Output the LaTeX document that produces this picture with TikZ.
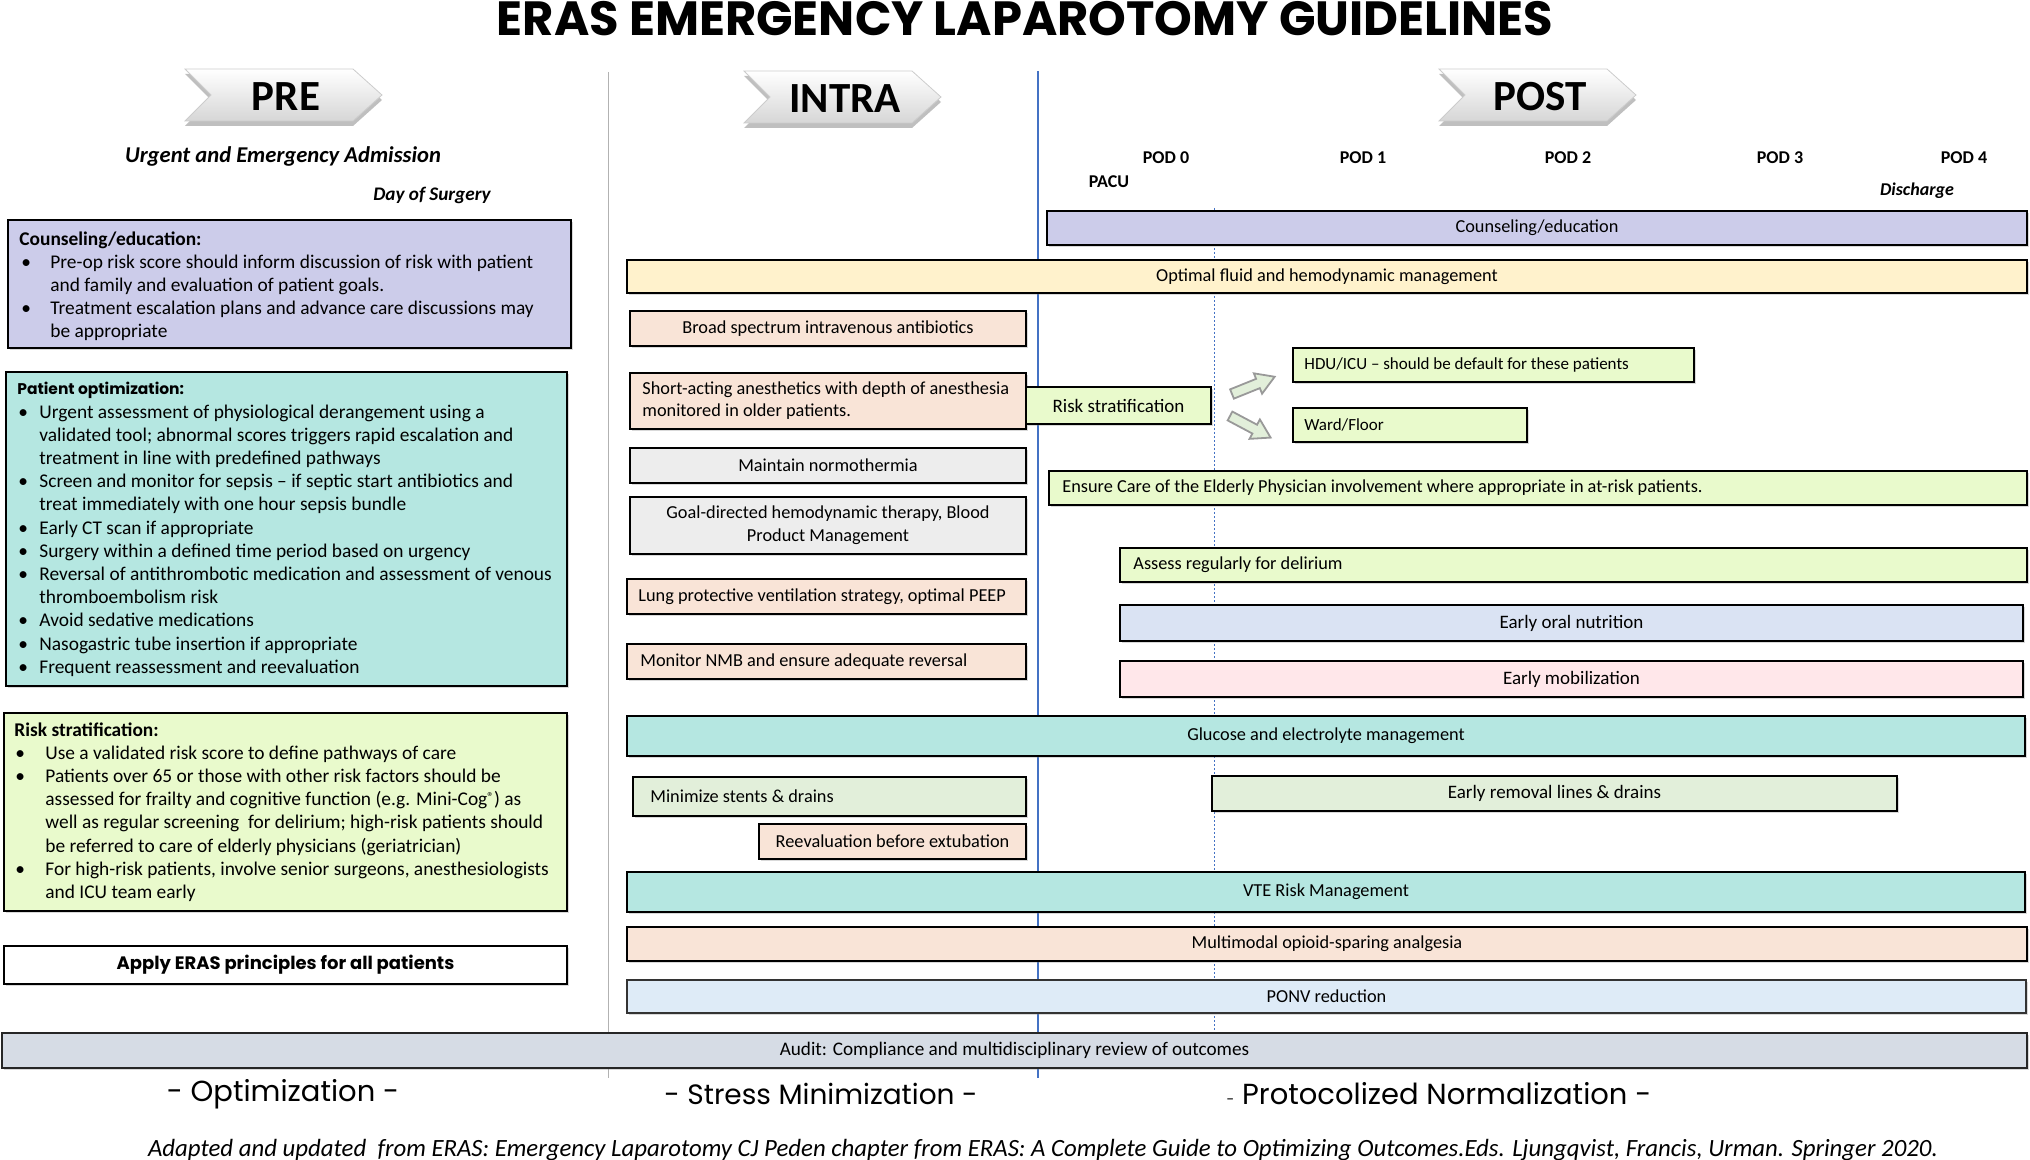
\documentclass[tikz,border=0pt]{standalone}
\usepackage{fontspec}
\setmainfont{Carlito}
\newfontfamily\gothic{Poppins}
\usetikzlibrary{shadows}
\definecolor{lav}{RGB}{204,204,234}
\definecolor{teal}{RGB}{181,231,225}
\definecolor{lgreen}{RGB}{233,250,204}
\definecolor{peach}{RGB}{249,228,215}
\definecolor{yel}{RGB}{255,242,204}
\definecolor{lgrey}{RGB}{237,237,237}
\definecolor{lblue}{RGB}{218,227,243}
\definecolor{pink}{RGB}{255,231,234}
\definecolor{ggreen}{RGB}{226,239,218}
\definecolor{pblue}{RGB}{222,235,247}
\definecolor{auditc}{RGB}{214,220,229}
\definecolor{vblue}{RGB}{68,114,196}
\tikzset{
  bar/.style={draw=black, line width=1.4pt, inner sep=0pt,
    font=\fontsize{9.15}{11}\selectfont,
    drop shadow={shadow xshift=1.2pt, shadow yshift=-1.2pt, opacity=0.3}},
  bigt/.style={font=\fontsize{9.5}{11}\selectfont},
  tx/.style={inner sep=0pt, font=\fontsize{9.15}{11}\selectfont},
  smalltx/.style={inner sep=0pt, font=\fontsize{8.5}{10}\selectfont},
  leftbody/.style={anchor=north west, inner sep=0pt, align=left, font=\fontsize{9.7}{11.6}\selectfont},
  podlab/.style={font=\bfseries\fontsize{9}{10}\selectfont, inner sep=0pt},
  chevtext/.style={font=\bfseries\fontsize{21.5}{24}\selectfont, inner sep=0pt},
  chevbody/.style={top color=white, bottom color=black!16, draw=black!20, line width=0.4pt,
    drop shadow={shadow xshift=0pt, shadow yshift=-2.5pt, opacity=0.5}},
  blockarrow/.style={fill=ggreen, draw=black!40, line width=0.9pt},
  phase/.style={font=\gothic\fontsize{14.5}{17}\selectfont, inner sep=0pt},
}
% name, x1, y1, x2, y2, style, text
\newcommand\mybar[7]{\node[bar,#6,minimum width={((#4)-(#2))*0.5pt},minimum height={((#5)-(#3))*0.5pt}] (#1) at ({((#2)+(#4))/2},{((#3)+(#5))/2}) {#7};}
% name, x1, y1, x2, y2, style, textx, textstyle, text
\newcommand\mybarl[9]{\node[bar,#6,minimum width={((#4)-(#2))*0.5pt},minimum height={((#5)-(#3))*0.5pt}] (#1) at ({((#2)+(#4))/2},{((#3)+(#5))/2}) {};
\node[anchor=west,#8] (#1-t) at (#7,{((#3)+(#5))/2}) {#9};}
% name, x0, y0, text
\newcommand\mychev[4]{\path[chevbody] (#2,#3) -- ({#2+168},#3) -- ({#2+197},{#3+26}) -- ({#2+168},{#3+52}) -- (#2,{#3+52}) -- ({#2+26},{#3+26}) -- cycle;
\node[chevtext] (#1) at ({#2+101},{#3+28}) {#4};}
% bullet line: bullet offset, text offset
\newcommand\bul[2]{\makebox[#2][l]{\hspace*{#1}•}}
\begin{document}
\begin{tikzpicture}[x=0.5pt,y=-0.5pt]
\useasboundingbox (0,0) rectangle (2030,1160);
% phase separators
\draw[black!30, line width=0.5pt] (608,72) coordinate (g1) -- (608,1078) coordinate (g2);
\draw[vblue, line width=0.6pt] (1038,71) coordinate (b1) -- (1038,1078) coordinate (b2);
\draw[vblue, line width=0.5pt, dash pattern=on 1pt off 1pt] (1214,208) coordinate (d1) -- (1214,1030) coordinate (d2);

% title
\node[font=\gothic\bfseries\fontsize{24}{27}\selectfont, inner sep=0pt] (title) at (1025,19) {ERAS EMERGENCY LAPAROTOMY GUIDELINES};

% chevrons
\mychev{pre}{185}{69}{PRE}
\mychev{intra}{744}{71}{INTRA}
\mychev{post}{1439}{69}{POST}

% headings
\node[font=\bfseries\itshape\fontsize{11.3}{13}\selectfont, inner sep=0pt] (urgent) at (283,156) {Urgent and Emergency Admission};
\node[font=\bfseries\itshape\fontsize{9.6}{11}\selectfont, inner sep=0pt] (dos) at (432,195) {Day of Surgery};
\node[podlab] (pod0) at (1166,158) {POD 0};
\node[podlab] (pod1) at (1363,158) {POD 1};
\node[podlab] (pod2) at (1568,158) {POD 2};
\node[podlab] (pod3) at (1780,158) {POD 3};
\node[podlab] (pod4) at (1964,158) {POD 4};
\node[podlab] (pacu) at (1109,182) {PACU};
\node[podlab, font=\bfseries\itshape\fontsize{9}{10}\selectfont] (disch) at (1917,191) {Discharge};

% left boxes
\mybar{counbox}{8}{220}{571}{348}{fill=lav}{}
\node[leftbody] (counbox-t) at (19,231) {\textbf{Counseling/education:}\\
\bul{1pt}{15.5pt}Pre-op risk score should inform discussion of risk with patient\\
\hspace*{15.5pt}and family and evaluation of patient goals.\\
\bul{1pt}{15.5pt}Treatment escalation plans and advance care discussions may\\
\hspace*{15.5pt}be appropriate};

\mybar{patbox}{6}{372}{567}{686}{fill=teal}{}
\node[leftbody] (patbox-t) at (17,382) {{\gothic\bfseries\fontsize{7.75}{9}\selectfont Patient optimization:}\\
\bul{0.5pt}{11pt}Urgent assessment of physiological derangement using a\\
\hspace*{11pt}validated tool; abnormal scores triggers rapid escalation and\\
\hspace*{11pt}treatment in line with predefined pathways\\
\bul{0.5pt}{11pt}Screen and monitor for sepsis – if septic start antibiotics and\\
\hspace*{11pt}treat immediately with one hour sepsis bundle\\
\bul{0.5pt}{11pt}Early CT scan if appropriate\\
\bul{0.5pt}{11pt}Surgery within a defined time period based on urgency\\
\bul{0.5pt}{11pt}Reversal of antithrombotic medication and assessment of venous\\
\hspace*{11pt}thromboembolism risk\\
\bul{0.5pt}{11pt}Avoid sedative medications\\
\bul{0.5pt}{11pt}Nasogastric tube insertion if appropriate\\
\bul{0.5pt}{11pt}Frequent reassessment and reevaluation};

\mybar{riskbox}{4}{713}{567}{911}{fill=lgreen}{}
\node[leftbody] (riskbox-t) at (14,722) {\textbf{Risk stratification:}\\
\bul{0.5pt}{15.5pt}Use a validated risk score to define pathways of care\\
\bul{0.5pt}{15.5pt}Patients over 65 or those with other risk factors should be\\
\hspace*{15.5pt}assessed for frailty and cognitive function (e.g. Mini-Cog{\fontsize{6.5}{7}\selectfont\raisebox{2.2pt}{®}}) as\\
\hspace*{15.5pt}well as regular screening\ \ for delirium; high-risk patients should\\
\hspace*{15.5pt}be referred to care of elderly physicians (geriatrician)\\
\bul{0.5pt}{15.5pt}For high-risk patients, involve senior surgeons, anesthesiologists\\
\hspace*{15.5pt}and ICU team early};

\mybar{apply}{4}{946}{567}{984}{fill=white, font=\gothic\bfseries\fontsize{9}{10}\selectfont}{Apply ERAS principles for all patients}

% intra / post bars
\mybar{cou}{1047}{211}{2027}{245}{fill=lav}{Counseling/education}
\mybar{fluid}{627}{260}{2027}{293}{fill=yel}{Optimal fluid and hemodynamic management}
\mybar{abx}{630}{311}{1026}{346}{fill=peach}{Broad spectrum intravenous antibiotics}
\mybarl{short}{630}{373}{1026}{429}{fill=peach}{642}{tx, align=left, font=\fontsize{9.15}{11}\selectfont}{Short-acting anesthetics with depth of anesthesia\\monitored in older patients.}
\mybar{rs}{1026}{387}{1211}{424}{fill=lgreen, bigt}{Risk stratification}
\mybarl{hdu}{1293}{348}{1694}{382}{fill=lgreen}{1304}{smalltx}{HDU/ICU – should be default for these patients}
\mybarl{ward}{1293}{408}{1527}{442}{fill=lgreen}{1304}{smalltx}{Ward/Floor}
\mybar{norm}{630}{448}{1026}{483}{fill=lgrey}{Maintain normothermia}
\mybar{gdt}{630}{497}{1026}{554}{fill=lgrey, align=center, font=\fontsize{9.15}{11.5}\selectfont}{Goal-directed hemodynamic therapy, Blood\\Product Management}
\mybarl{elder}{1049}{471}{2027}{505}{fill=lgreen}{1062}{tx}{Ensure Care of the Elderly Physician involvement where appropriate in at-risk patients.}
\mybarl{delir}{1120}{548}{2027}{582}{fill=lgreen}{1133}{tx}{Assess regularly for delirium}
\mybarl{lung}{627}{579}{1026}{614}{fill=peach}{638}{tx}{Lung protective ventilation strategy, optimal PEEP}
\mybarl{nmb}{627}{644}{1026}{679}{fill=peach}{640}{tx}{Monitor NMB and ensure adequate reversal}
\mybar{oral}{1120}{605}{2023}{641}{fill=lblue, bigt}{Early oral nutrition}
\mybar{mob}{1120}{661}{2023}{697}{fill=pink, bigt}{Early mobilization}
\mybar{gluc}{627}{716}{2025}{756}{fill=teal}{Glucose and electrolyte management}
\mybarl{stents}{633}{777}{1026}{816}{fill=ggreen, line width=1.1pt}{650}{tx}{Minimize stents \& drains}
\mybar{reeval}{759}{824}{1026}{859}{fill=peach, line width=1.1pt}{Reevaluation before extubation}
\mybar{remove}{1212}{776}{1897}{811}{fill=ggreen, bigt}{Early removal lines \& drains}
\mybar{vte}{627}{872}{2025}{912}{fill=teal}{VTE Risk Management}
\mybar{opioid}{627}{927}{2027}{961}{fill=peach}{Multimodal opioid-sparing analgesia}
\mybar{ponv}{627}{980}{2026}{1013}{fill=pblue, draw=black!80, line width=1.1pt}{PONV reduction}
\mybar{audit}{2}{1033}{2027}{1068}{fill=auditc, draw=black!85, line width=1.2pt, font=\fontsize{9.6}{11}\selectfont}{Audit: Compliance and multidisciplinary review of outcomes}

% block arrows from risk stratification
\draw[blockarrow, shift={(1232,394)}, rotate=22] (0,-5) -- (28,-5) -- (28,-11) -- (46,0) -- (28,11) -- (28,5) -- (0,5) -- cycle;
\draw[blockarrow, shift={(1230,416)}, rotate=-28] (0,-5) -- (28,-5) -- (28,-11) -- (46,0) -- (28,11) -- (28,5) -- (0,5) -- cycle;

% phase labels
\node[phase] (opt) at (283,1094) {- Optimization -};
\node[phase, font=\gothic\fontsize{14}{17}\selectfont] (stress) at (821,1094) {- Stress Minimization -};
\node[phase] (proto) at (1439,1094) {{\fontsize{7}{8}\selectfont -} Protocolized Normalization -};

% footer
\node[anchor=base, inner sep=0pt, font=\itshape\fontsize{12.4}{14}\selectfont] (foot) at (1043,1156) {Adapted and updated\ \ from ERAS: Emergency Laparotomy CJ Peden chapter from ERAS: A Complete Guide to Optimizing Outcomes.Eds. Ljungqvist, Francis, Urman. Springer 2020.};
\end{tikzpicture}
\end{document}
